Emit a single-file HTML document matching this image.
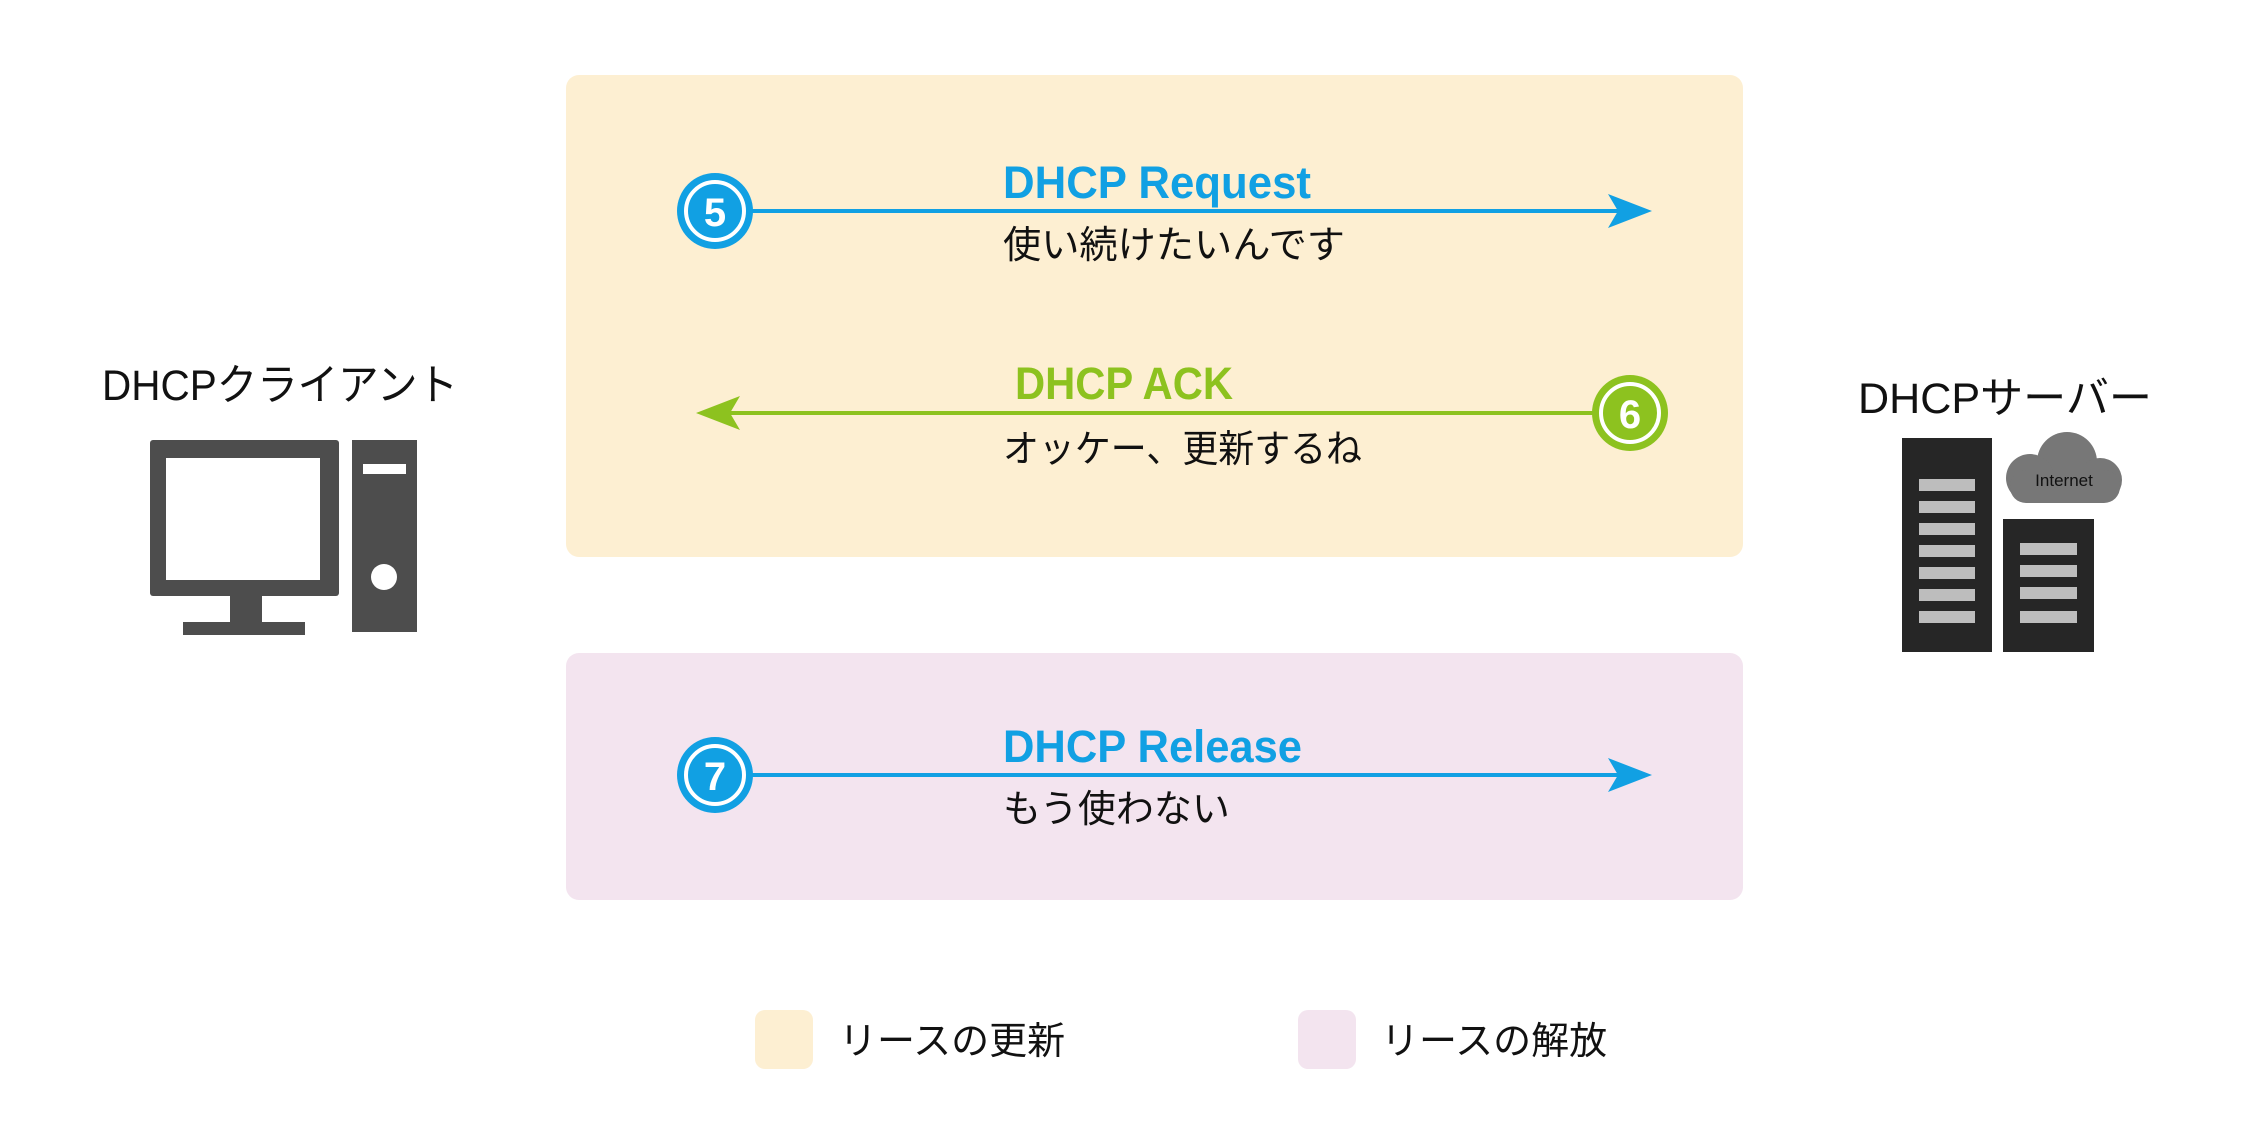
<!DOCTYPE html>
<html><head><meta charset="utf-8"><style>
html,body{margin:0;padding:0;background:#fff;}
svg{display:block;}
text{font-family:"Liberation Sans","Noto Sans CJK JP",sans-serif;}
</style></head><body>
<svg width="2268" height="1134" viewBox="0 0 2268 1134" xmlns="http://www.w3.org/2000/svg">
<rect x="566" y="75" width="1177" height="482" rx="13" fill="#fdefd2"/>
<rect x="566" y="653" width="1177" height="247" rx="13" fill="#f3e4ef"/>

<!-- Request -->
<line x1="740" y1="211" x2="1620" y2="211" stroke="#11a0e3" stroke-width="4"/>
<polygon points="1652,211 1608,194 1618,211 1608,228" fill="#11a0e3"/>
<circle cx="715" cy="211" r="38" fill="#11a0e3"/>
<circle cx="715" cy="211" r="29" fill="none" stroke="#fff" stroke-width="4"/>
<text x="715" y="226" font-size="40" font-weight="bold" fill="#fff" text-anchor="middle">5</text>
<text x="1003" y="198" font-size="45" font-weight="bold" fill="#11a0e3" textLength="308" lengthAdjust="spacingAndGlyphs">DHCP Request</text>
<text x="1003" y="258" font-size="38" fill="#111" textLength="342" lengthAdjust="spacingAndGlyphs">使い続けたいんです</text>

<!-- ACK -->
<line x1="725" y1="413" x2="1600" y2="413" stroke="#8dc21f" stroke-width="4"/>
<polygon points="696,413 740,396 730,413 740,430" fill="#8dc21f"/>
<circle cx="1630" cy="413" r="38" fill="#8dc21f"/>
<circle cx="1630" cy="413" r="29" fill="none" stroke="#fff" stroke-width="4"/>
<text x="1630" y="428" font-size="40" font-weight="bold" fill="#fff" text-anchor="middle">6</text>
<text x="1015" y="399" font-size="45" font-weight="bold" fill="#8dc21f" textLength="218" lengthAdjust="spacingAndGlyphs">DHCP ACK</text>
<text x="1003" y="462" font-size="38" fill="#111" textLength="359" lengthAdjust="spacingAndGlyphs">オッケー、更新するね</text>

<!-- Release -->
<line x1="740" y1="775" x2="1620" y2="775" stroke="#11a0e3" stroke-width="4"/>
<polygon points="1652,775 1608,758 1618,775 1608,792" fill="#11a0e3"/>
<circle cx="715" cy="775" r="38" fill="#11a0e3"/>
<circle cx="715" cy="775" r="29" fill="none" stroke="#fff" stroke-width="4"/>
<text x="715" y="790" font-size="40" font-weight="bold" fill="#fff" text-anchor="middle">7</text>
<text x="1003" y="762" font-size="45" font-weight="bold" fill="#11a0e3" textLength="299" lengthAdjust="spacingAndGlyphs">DHCP Release</text>
<text x="1003" y="822" font-size="38" fill="#111">もう使わない</text>

<!-- Client -->
<text x="102" y="400" font-size="43" fill="#111" textLength="356" lengthAdjust="spacingAndGlyphs">DHCPクライアント</text>
<rect x="150" y="440" width="189" height="156" rx="3" fill="#4d4d4d"/>
<rect x="166" y="458" width="154" height="122" fill="#fff"/>
<rect x="230" y="595" width="32" height="28" fill="#4d4d4d"/>
<rect x="183" y="622" width="122" height="13" fill="#4d4d4d"/>
<rect x="352" y="440" width="65" height="192" fill="#4d4d4d"/>
<rect x="363" y="464" width="43" height="10" fill="#fff"/>
<circle cx="384" cy="577" r="13" fill="#fff"/>

<!-- Server -->
<text x="1858" y="413" font-size="43" fill="#111" textLength="294" lengthAdjust="spacingAndGlyphs">DHCPサーバー</text>
<rect x="1902" y="438" width="90" height="214" fill="#262626"/>
<g fill="#bdbdbd">
<rect x="1919" y="479" width="56" height="12"/><rect x="1919" y="501" width="56" height="12"/>
<rect x="1919" y="523" width="56" height="12"/><rect x="1919" y="545" width="56" height="12"/>
<rect x="1919" y="567" width="56" height="12"/><rect x="1919" y="589" width="56" height="12"/>
<rect x="1919" y="611" width="56" height="12"/>
</g>
<rect x="2003" y="519" width="91" height="133" fill="#262626"/>
<g fill="#bdbdbd">
<rect x="2020" y="543" width="57" height="12"/><rect x="2020" y="565" width="57" height="12"/>
<rect x="2020" y="587" width="57" height="12"/><rect x="2020" y="611" width="57" height="12"/>
</g>
<g fill="#777">
<circle cx="2067" cy="462" r="30"/>
<circle cx="2030" cy="478" r="24"/>
<circle cx="2100" cy="480" r="22"/>
<rect x="2010" y="470" width="110" height="33" rx="16"/>
</g>
<text x="2064" y="486" font-size="17" fill="#111" text-anchor="middle">Internet</text>

<!-- Legend -->
<rect x="755" y="1010" width="58" height="59" rx="10" fill="#fdefd2"/>
<text x="839" y="1054" font-size="38" fill="#111">リースの更新</text>
<rect x="1298" y="1010" width="58" height="59" rx="10" fill="#f3e4ef"/>
<text x="1381" y="1054" font-size="38" fill="#111">リースの解放</text>
</svg>
</body></html>
